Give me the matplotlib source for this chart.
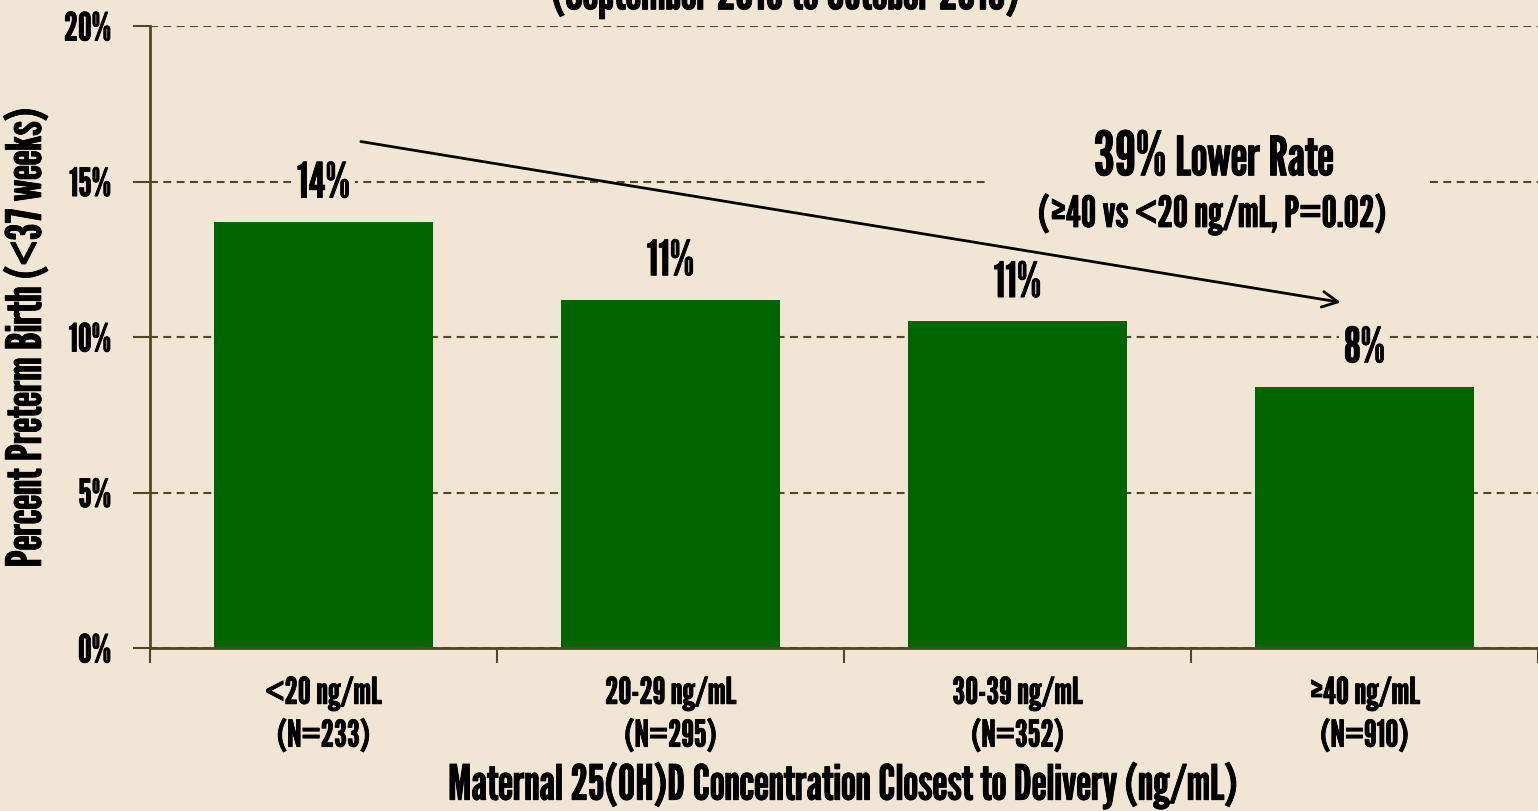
import matplotlib
matplotlib.use('Agg')
import matplotlib.pyplot as plt
import matplotlib.patheffects as pe
from matplotlib.patches import Rectangle
import numpy as np

plt.rcParams['font.family'] = ['League Gothic', 'Oswald', 'DejaVu Sans']
# League Gothic has a single weight; a thin stroke makes it look bold like the slide
bold = [pe.withStroke(linewidth=0.6, foreground='black')]

categories = ['<20 ng/mL\n(N=233)', '20-29 ng/mL\n(N=295)', '30-39 ng/mL\n(N=352)', '\u226540 ng/mL\n(N=910)']
rates = [13.7, 11.2, 10.5, 8.4]
bar_labels = ['14%', '11%', '11%', '8%']
yticks = [0, 5, 10, 15, 20]

bg = '#f1e6d3'
olive = '#4f4828'
green = '#006400'

fig = plt.figure(figsize=(15.38, 8.12), dpi=100, facecolor=bg)
ax = fig.add_axes([0.0975, 0.2007, 0.9025, 0.766])
ax.set_facecolor(bg)

x = np.arange(len(categories))
ax.bar(x, rates, width=0.63, color=green, zorder=2)

for xi, v, lab in zip(x, rates, bar_labels):
    ax.text(xi, v + 1.22, lab, ha='center', va='center', fontsize=35, path_effects=bold,
            bbox=dict(facecolor=bg, edgecolor='none', pad=4), zorder=3)

ax.set_xlim(-0.5, 3.5)
ax.set_ylim(0, 20)
ax.set_yticks(yticks)
ax.set_yticklabels(['%d%%' % t for t in yticks], fontsize=28)
ax.set_xticks(x)
ax.set_xticklabels(categories, fontsize=26.5, linespacing=1.28)
ax.set_xticks(np.arange(-0.5, 4, 1), minor=True)
ax.tick_params(axis='x', which='major', length=0, pad=20)
ax.tick_params(axis='x', which='minor', length=11, width=1.5, color=olive, direction='out')
ax.tick_params(axis='y', length=12, width=1.5, color=olive, direction='out', pad=16)
for t in ax.get_xticklabels() + ax.get_yticklabels():
    t.set_path_effects(bold)

ax.grid(axis='y', linestyle=(0, (3.8, 2.6)), color=olive, linewidth=1.5, zorder=0)
ax.set_axisbelow(True)
for s in ['top', 'right']:
    ax.spines[s].set_visible(False)
for s in ['left', 'bottom']:
    ax.spines[s].set_color(olive)
    ax.spines[s].set_linewidth(2)

ax.set_ylabel('Percent Preterm Birth (<37 weeks)', fontsize=35, labelpad=10, path_effects=bold)
ax.set_xlabel('Maternal 25(OH)D Concentration Closest to Delivery (ng/mL)', fontsize=35, labelpad=6,
              path_effects=bold)

# trend arrow
ax.annotate('', xy=(2.94, 11.1), xytext=(0.1, 16.3),
            arrowprops=dict(arrowstyle='->', color='black', lw=2, mutation_scale=28), zorder=5)

# gap in the 15% gridline behind the annotation
ax.add_patch(Rectangle((1.91, 14.7), 1.27, 0.6, facecolor=bg, edgecolor='none', zorder=1))
ax.text(2.43, 15.2, '39%', ha='right', va='baseline', fontsize=44, path_effects=bold, zorder=4)
ax.text(2.43, 15.2, ' Lower Rate', ha='left', va='baseline', fontsize=39, path_effects=bold, zorder=4)
ax.text(2.56, 13.95, '(\u226540 vs <20 ng/mL, P=0.02)', ha='center', va='center', fontsize=31,
        path_effects=bold, zorder=4)

fig.text(0.51, 0.975, '(September 2015 to October 2016)', ha='center', va='bottom', fontsize=37,
         path_effects=bold)

fig.savefig('out.png', dpi=100, facecolor=bg)
